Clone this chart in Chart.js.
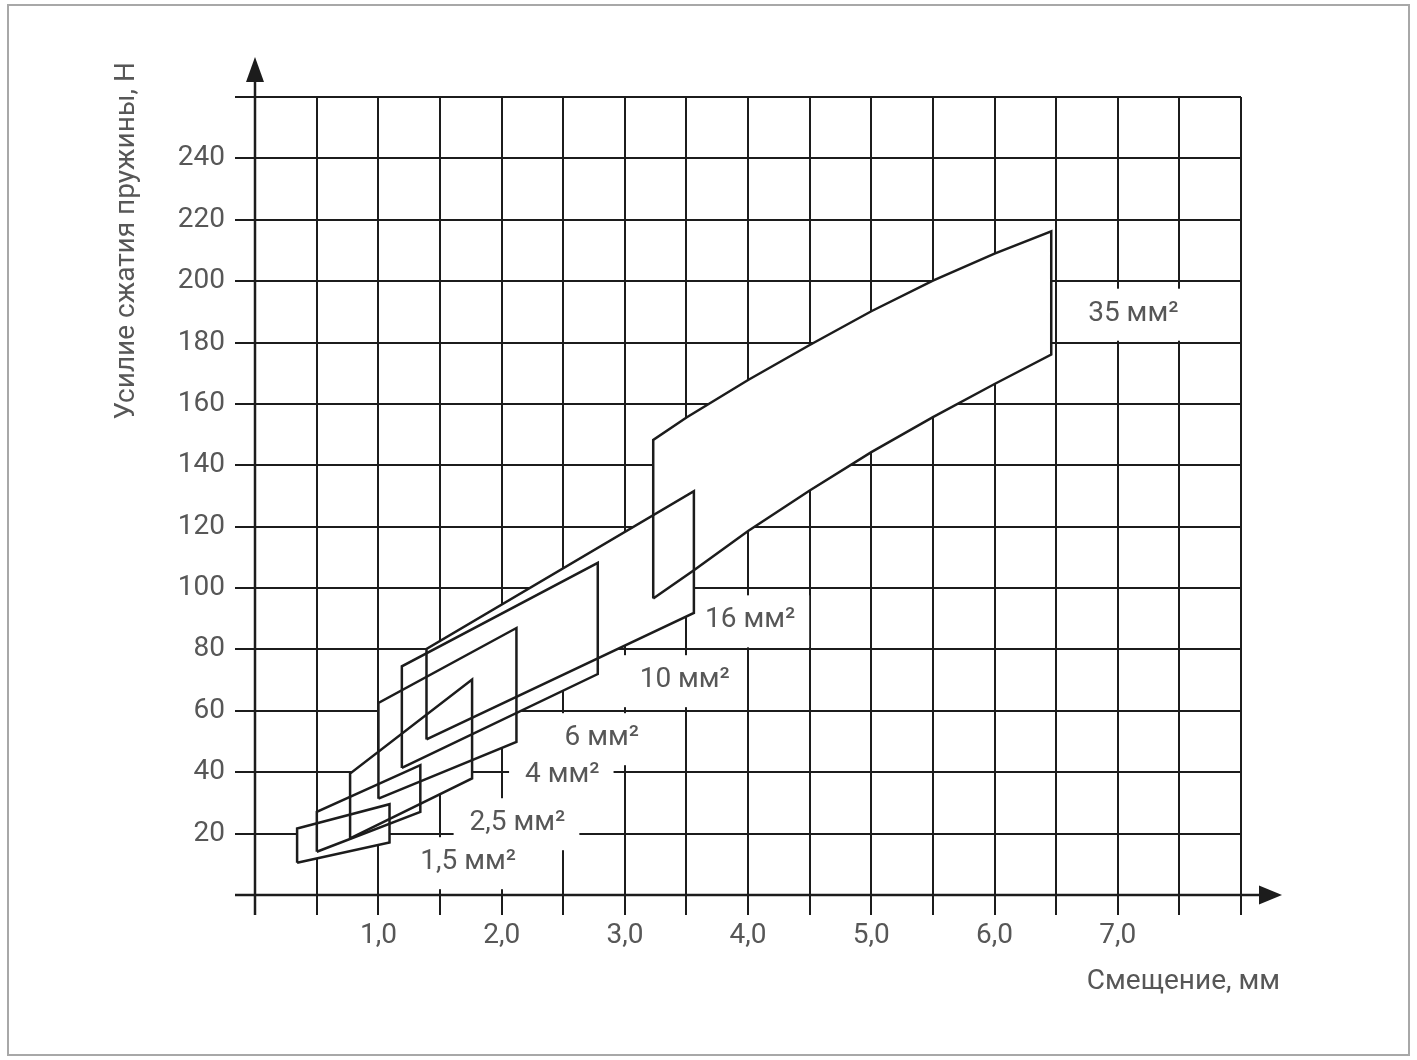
<!DOCTYPE html>
<html>
<head>
<meta charset="utf-8">
<script src="https://cdn.jsdelivr.net/npm/chart.js@4.4.0/dist/chart.umd.min.js"></script>
<style>
  html, body { margin: 0; background: #fff; }
  #wrap { width: 1417px; height: 1060px; }
</style>
</head>
<body>
<div id="wrap"><canvas id="chart" width="1417" height="1060"></canvas></div>
<script>
// cross sections (labels) and the band outline of each one: [displacement mm, force N]
const sections = ['1,5 мм²', '2,5 мм²', '4 мм²', '6 мм²', '10 мм²', '16 мм²', '35 мм²'];
const band15 = [[0.34, 10.5], [0.34, 21.7], [1.09, 29.6], [1.09, 17.1]];
const band25 = [[0.50, 14.1], [0.50, 27.1], [1.34, 42.3], [1.34, 27.1]];
const band4  = [[0.77, 18.5], [0.77, 39.6], [1.76, 70.2], [1.76, 38.0]];
const band6  = [[1.00, 31.4], [1.00, 62.6], [2.12, 87.0], [2.12, 49.9]];
const band10 = [[1.19, 41.4], [1.19, 74.5], [2.78, 108.2], [2.78, 72.0]];
const band16 = [[1.39, 50.7], [1.39, 80.2], [3.56, 131.6], [3.56, 91.9]];
const band35 = [[3.23, 96.6], [3.23, 148.3], [3.5, 155.6], [4.0, 167.8], [4.5, 179.2],
                [5.0, 190.2], [5.5, 200.2], [6.0, 209.0], [6.46, 216.2], [6.46, 176.1],
                [6.0, 166.5], [5.5, 155.7], [5.0, 144.3], [4.5, 131.8], [4.0, 118.6], [3.56, 105.8]];
const bands = [band15, band25, band4, band6, band10, band16, band35];

// where each section label sits (left edge, middle), in axis units
const labelX = [1.34, 1.74, 2.19, 2.51, 3.12, 3.65, 6.76];
const labelY = [10.7, 23.4, 39.1, 51.1, 70.0, 89.5, 189.4];

// ticks
const xTicks = [0, 0.5, 1, 1.5, 2, 2.5, 3, 3.5, 4, 4.5, 5, 5.5, 6, 6.5, 7, 7.5, 8];
const xLabels = [1, 2, 3, 4, 5, 6, 7];
const yTicks = [0, 20, 40, 60, 80, 100, 120, 140, 160, 180, 200, 220, 240, 260];
const yLabels = [20, 40, 60, 80, 100, 120, 140, 160, 180, 200, 220, 240];

const xTitle = 'Смещение, мм';
const yTitle = 'Усилие сжатия пружины, Н';

const FONT = 'Roboto';
const TEXT = '#575757';
const INK = '#1c1c1c';

function closed(pts) {
    const out = pts.map(p => ({x: p[0], y: p[1]}));
    out.push({x: pts[0][0], y: pts[0][1]});
    return out;
}

const datasets = [];
// white fills first so the grid is hidden inside the bands
bands.forEach((b, i) => {
    datasets.push({
        label: sections[i] + ' fill',
        data: closed(b),
        showLine: true,
        fill: 'shape',
        backgroundColor: '#ffffff',
        borderWidth: 0,
        borderColor: 'rgba(0,0,0,0)',
        pointRadius: 0,
        order: 2
    });
});
// outlines on top, all of them visible
bands.forEach((b, i) => {
    datasets.push({
        label: sections[i],
        data: closed(b),
        showLine: true,
        fill: false,
        borderColor: INK,
        borderWidth: 2.5,
        borderJoinStyle: 'miter',
        pointRadius: 0,
        order: 1
    });
});

const decor = {
    id: 'decor',
    beforeDraw(chart) {
        const ctx = chart.ctx;
        ctx.save();
        ctx.fillStyle = '#fff';
        ctx.fillRect(0, 0, chart.width, chart.height);
        ctx.strokeStyle = '#a8a8a8';
        ctx.lineWidth = 2;
        ctx.strokeRect(8, 5, chart.width - 16, chart.height - 10);
        ctx.restore();
    },
    beforeDatasetsDraw(chart) {
        // section labels on white boxes: boxes first, then all texts
        const ctx = chart.ctx;
        const xs = chart.scales.x, ys = chart.scales.y;
        ctx.save();
        ctx.font = '28px ' + FONT;
        ctx.textBaseline = 'middle';
        ctx.textAlign = 'left';
        const spots = sections.map((s, i) => ({
            s: s,
            px: xs.getPixelForValue(labelX[i]),
            py: ys.getPixelForValue(labelY[i]),
            w: ctx.measureText(s).width
        }));
        ctx.fillStyle = '#fff';
        spots.forEach(p => ctx.fillRect(p.px - 16, p.py - 25, p.w + 30, 52));
        ctx.fillStyle = TEXT;
        spots.forEach(p => ctx.fillText(p.s, p.px, p.py));
        ctx.restore();
    },
    afterDatasetsDraw(chart) {
        const ctx = chart.ctx;
        const area = chart.chartArea;
        const xs = chart.scales.x, ys = chart.scales.y;
        const x0 = Math.round(xs.getPixelForValue(0));
        const y0 = Math.round(ys.getPixelForValue(0));
        ctx.save();
        ctx.strokeStyle = INK;
        ctx.fillStyle = INK;
        ctx.lineWidth = 2.5;
        // y axis with arrow
        ctx.beginPath();
        ctx.moveTo(x0, area.bottom);
        ctx.lineTo(x0, area.top - 18);
        ctx.stroke();
        ctx.beginPath();
        ctx.moveTo(x0, area.top - 40);
        ctx.lineTo(x0 - 9, area.top - 15);
        ctx.lineTo(x0 + 9, area.top - 15);
        ctx.closePath();
        ctx.fill();
        // x axis with arrow
        ctx.beginPath();
        ctx.moveTo(area.left, y0);
        ctx.lineTo(area.right + 20, y0);
        ctx.stroke();
        ctx.beginPath();
        ctx.moveTo(area.right + 41, y0);
        ctx.lineTo(area.right + 18, y0 - 9.5);
        ctx.lineTo(area.right + 18, y0 + 9.5);
        ctx.closePath();
        ctx.fill();
        // axis titles
        ctx.fillStyle = TEXT;
        ctx.font = '28px ' + FONT;
        ctx.textBaseline = 'middle';
        ctx.textAlign = 'right';
        ctx.fillText(xTitle, area.right + 39, area.bottom + 67);
        ctx.translate(127, area.top - 35);
        ctx.rotate(-Math.PI / 2);
        ctx.fillText(yTitle, 0, 0);
        ctx.restore();
    }
};

new Chart(document.getElementById('chart'), {
    type: 'scatter',
    data: { datasets: datasets },
    options: {
        responsive: false,
        animation: false,
        devicePixelRatio: 1,
        layout: { padding: { left: 175, top: 97, right: 176, bottom: 95 } },
        plugins: { legend: { display: false }, tooltip: { enabled: false } },
        scales: {
            x: {
                type: 'linear',
                min: -0.164,
                max: 8,
                afterBuildTicks: s => { s.ticks = xTicks.map(v => ({ value: v })); },
                afterFit: s => { s.height = 50; },
                grid: { color: INK, lineWidth: 2, drawTicks: false },
                border: { display: false },
                ticks: {
                    autoSkip: false,
                    maxRotation: 0,
                    padding: 4,
                    color: TEXT,
                    font: { family: FONT, size: 28 },
                    callback: v => xLabels.includes(v) ? v.toFixed(1).replace('.', ',') : ''
                }
            },
            y: {
                type: 'linear',
                min: -6.5,
                max: 260,
                afterBuildTicks: s => { s.ticks = yTicks.map(v => ({ value: v })); },
                afterFit: s => { s.width = 60; },
                grid: { color: INK, lineWidth: 2, drawTicks: false },
                border: { display: false },
                ticks: {
                    autoSkip: false,
                    padding: 10,
                    color: TEXT,
                    font: { family: FONT, size: 28 },
                    callback: v => yLabels.includes(v) ? String(v) : ''
                }
            }
        }
    },
    plugins: [decor]
});
</script>
</body>
</html>
